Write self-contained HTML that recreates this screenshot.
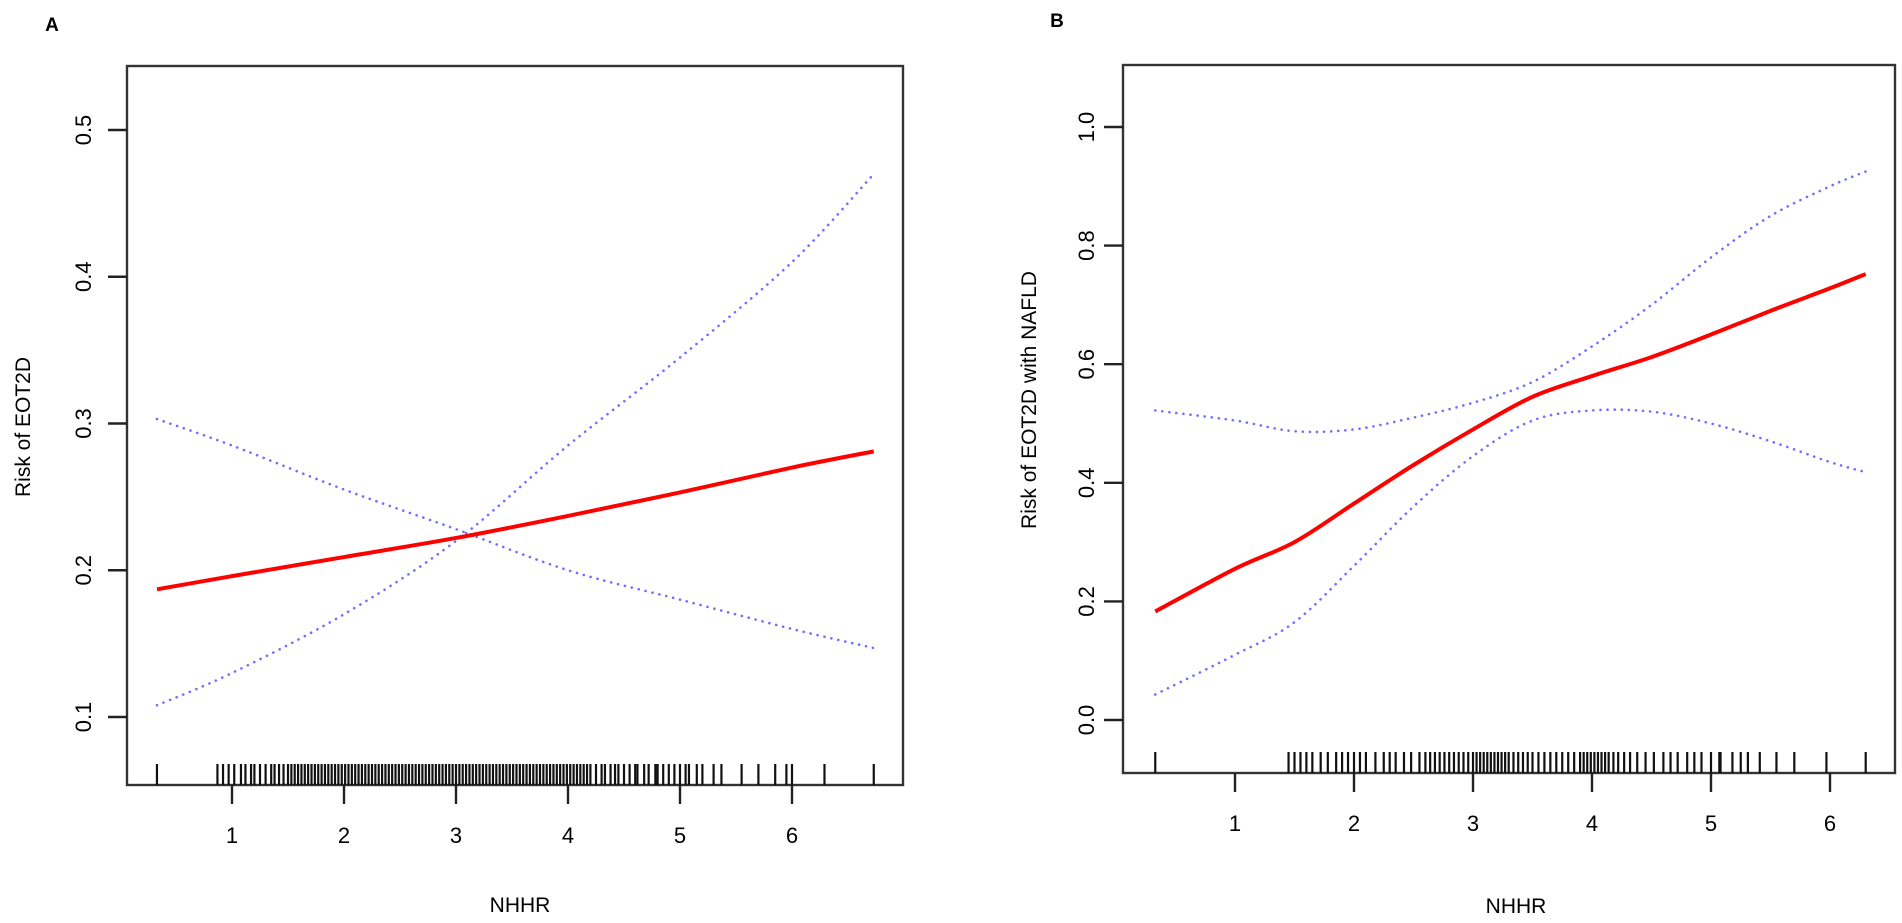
<!DOCTYPE html>
<html>
<head>
<meta charset="utf-8">
<style>
  html,body{margin:0;padding:0;background:#fff;}
  svg{display:block;}
  text{font-family:"Liberation Sans",Arial,sans-serif;fill:#000;}
</style>
</head>
<body>
<svg id="chart" width="1902" height="923" viewBox="0 0 1902 923" xmlns="http://www.w3.org/2000/svg"></svg>
<script>
// ---------- Panel A data ----------
const aXTicks = [1,2,3,4,5,6];
const aYTicks = [0.1,0.2,0.3,0.4,0.5];
const aYTickLabels = ["0.1","0.2","0.3","0.4","0.5"];
const aX = [0.33,1,2,3,4,5,6,6.73];
const aFit = [0.187,0.196,0.209,0.222,0.237,0.253,0.270,0.281];
const aLower = [0.108,0.130,0.170,0.220,0.285,0.345,0.410,0.470];
const aUpper = [0.303,0.285,0.255,0.228,0.200,0.180,0.160,0.147];
const aRug = [0.33,0.87,0.92,0.97,1.02,1.08,1.12,1.17,1.2,1.25,1.3,1.35,1.38,1.42,1.46,
1.50,1.53,1.56,1.59,1.62,1.65,1.68,1.71,1.74,1.77,1.80,1.83,1.86,1.89,1.92,1.95,1.98,2.01,2.04,2.07,2.10,2.13,2.16,2.19,2.22,2.25,2.28,2.31,2.34,2.37,2.40,2.43,2.46,2.49,2.52,2.55,2.58,2.61,2.64,2.67,2.70,2.73,2.76,2.79,2.82,2.85,2.88,2.91,2.94,2.97,3.00,3.03,3.06,3.09,3.12,3.15,3.18,3.21,3.24,3.27,3.30,3.33,3.36,3.39,3.42,3.45,3.48,3.51,3.54,3.57,3.60,3.63,3.66,3.69,3.72,3.75,3.78,3.81,3.84,3.87,3.90,3.93,3.96,3.99,4.02,4.05,4.08,4.11,4.14,4.17,4.20,
4.25,4.3,4.33,4.38,4.42,4.45,4.5,4.55,4.6,4.62,4.68,4.72,4.78,4.8,4.85,4.9,4.95,5.0,5.05,5.08,5.15,5.2,5.3,5.37,5.55,5.7,5.85,5.95,6.0,6.29,6.73];

// ---------- Panel B data ----------
const bXTicks = [1,2,3,4,5,6];
const bYTicks = [0,0.2,0.4,0.6,0.8,1.0];
const bYTickLabels = ["0.0","0.2","0.4","0.6","0.8","1.0"];
const bX = [0.33,1,1.5,2,2.5,3,3.5,4,4.5,5,5.5,6,6.3];
const bFit = [0.183,0.255,0.300,0.365,0.430,0.490,0.545,0.580,0.612,0.650,0.690,0.728,0.752];
const bUpper = [0.522,0.505,0.487,0.490,0.510,0.535,0.570,0.630,0.700,0.780,0.850,0.900,0.925];
const bLower = [0.043,0.110,0.165,0.260,0.360,0.445,0.505,0.522,0.520,0.500,0.470,0.435,0.418];
const bRug = [0.33,1.45,1.5,1.55,1.6,1.65,1.72,1.78,1.85,1.9,1.95,2.0,2.05,2.1,2.18,2.25,2.3,2.35,2.42,2.48,2.55,2.6,2.64,2.68,2.72,2.76,2.8,2.84,2.88,2.92,2.96,3.0,3.03,3.06,3.09,3.12,3.15,3.18,3.21,3.24,3.27,3.3,3.34,3.38,3.42,3.46,3.5,3.55,3.6,3.65,3.7,3.75,3.8,3.85,3.9,3.93,3.96,3.99,4.02,4.05,4.08,4.11,4.14,4.18,4.22,4.27,4.32,4.38,4.45,4.52,4.6,4.66,4.72,4.8,4.86,
4.92,5.0,5.07,5.08,5.18,5.25,5.31,5.41,5.55,5.70,5.97,6.30];

const NS = "http://www.w3.org/2000/svg";
const svg = document.getElementById("chart");
function mk(tag, attrs, parent){
  const e = document.createElementNS(NS, tag);
  for (const k in attrs) e.setAttribute(k, attrs[k]);
  (parent||svg).appendChild(e);
  return e;
}
function spline(pts){
  let d = "M"+pts[0][0].toFixed(2)+","+pts[0][1].toFixed(2);
  for (let i=0;i<pts.length-1;i++){
    const p0=pts[Math.max(0,i-1)], p1=pts[i], p2=pts[i+1], p3=pts[Math.min(pts.length-1,i+2)];
    const c1x=p1[0]+(p2[0]-p0[0])/6, c1y=p1[1]+(p2[1]-p0[1])/6;
    const c2x=p2[0]-(p3[0]-p1[0])/6, c2y=p2[1]-(p3[1]-p1[1])/6;
    d += " C"+c1x.toFixed(2)+","+c1y.toFixed(2)+" "+c2x.toFixed(2)+","+c2y.toFixed(2)+" "+p2[0].toFixed(2)+","+p2[1].toFixed(2);
  }
  return d;
}

function panel(cfg){
  const g = mk("g", {});
  
  
  const xs = v => cfg.x0 + v*cfg.xu;
  const ys = v => cfg.yRef - (v - cfg.yRefVal)*cfg.yu;

  const letter = mk("text", {x:cfg.letterX, y:cfg.letterY, "font-size":19, "font-weight":"bold", "text-anchor":"middle"}, g);
  letter.textContent = cfg.letter;
  
  

  const box = mk("rect", {x:cfg.L, y:cfg.T, width:cfg.R-cfg.L, height:cfg.B-cfg.T, fill:"none", stroke:"#333", "stroke-width":2.4}, g);
  
  

  const rg = mk("g", {}, g);
  
  
  cfg.rug.forEach(v=>{
    const l = mk("line", {x1:xs(v), x2:xs(v), y1:cfg.rugTop, y2:cfg.B, stroke:"#111", "stroke-width":2.2}, rg);
    
    
  });

  cfg.xTicks.forEach(v=>{
    const t = mk("line", {x1:xs(v), x2:xs(v), y1:cfg.B, y2:cfg.B+19, stroke:"#222", "stroke-width":2.4}, g);
    
    
    const lb = mk("text", {x:xs(v), y:cfg.xLabY, "font-size":22, "text-anchor":"middle"}, g);
    lb.textContent = String(v);
    
    
  });
  cfg.yTicks.forEach((v,i)=>{
    const y = ys(v);
    const t = mk("line", {x1:cfg.L-19, x2:cfg.L, y1:y, y2:y, stroke:"#222", "stroke-width":2.4}, g);
    
    
    const lb = mk("text", {x:0, y:0, "font-size":22, "text-anchor":"middle", transform:"translate("+(cfg.yLabX+8)+","+y+") rotate(-90)"}, g);
    lb.textContent = cfg.yTickLabels[i];
    
    
  });

  const xt = mk("text", {x:cfg.xTitleX, y:cfg.xTitleY, "font-size":21, "text-anchor":"middle"}, g);
  xt.textContent = "NHHR";
  
  
  const yt = mk("text", {x:0, y:0, "font-size":21, "text-anchor":"middle", transform:"translate("+(cfg.yTitleX+7)+","+cfg.yTitleY+") rotate(-90)"}, g);
  yt.textContent = cfg.yTitle;
  
  

  const dot = {fill:"none", stroke:"#7070ff", "stroke-width":2.6, "stroke-dasharray":"0.1 7", "stroke-linecap":"round"};
  const up = mk("path", Object.assign({d:spline(cfg.xv.map((x,i)=>[xs(x),ys(cfg.upper[i])]))}, dot), g);
  
  
  const lo = mk("path", Object.assign({d:spline(cfg.xv.map((x,i)=>[xs(x),ys(cfg.lower[i])]))}, dot), g);
  
  
  const fit = mk("path", {d:spline(cfg.xv.map((x,i)=>[xs(x),ys(cfg.fit[i])])), fill:"none", stroke:"#ff0000", "stroke-width":4}, g);
  
  
}

panel({name:"panel-a", letter:"A", letterX:52, letterY:31,
  L:127, R:903, T:66, B:785, x0:120, xu:112, yRef:717, yRefVal:0.1, yu:1467.5,
  rugTop:764, xLabY:843, yLabX:83, xTitleX:520, xTitleY:912, yTitleX:23, yTitleY:427,
  yTitle:"Risk of EOT2D",
  xTicks:aXTicks, yTicks:aYTicks, yTickLabels:aYTickLabels,
  xv:aX, fit:aFit, lower:aLower, upper:aUpper, rug:aRug});

panel({name:"panel-b", letter:"B", letterX:1057, letterY:27,
  L:1123, R:1895, T:65, B:773, x0:1116, xu:119, yRef:720, yRefVal:0, yu:593,
  rugTop:752, xLabY:831, yLabX:1086, xTitleX:1516, xTitleY:913, yTitleX:1029, yTitleY:400,
  yTitle:"Risk of EOT2D with NAFLD",
  xTicks:bXTicks, yTicks:bYTicks, yTickLabels:bYTickLabels,
  xv:bX, fit:bFit, lower:bLower, upper:bUpper, rug:bRug});
</script>
</body>
</html>
